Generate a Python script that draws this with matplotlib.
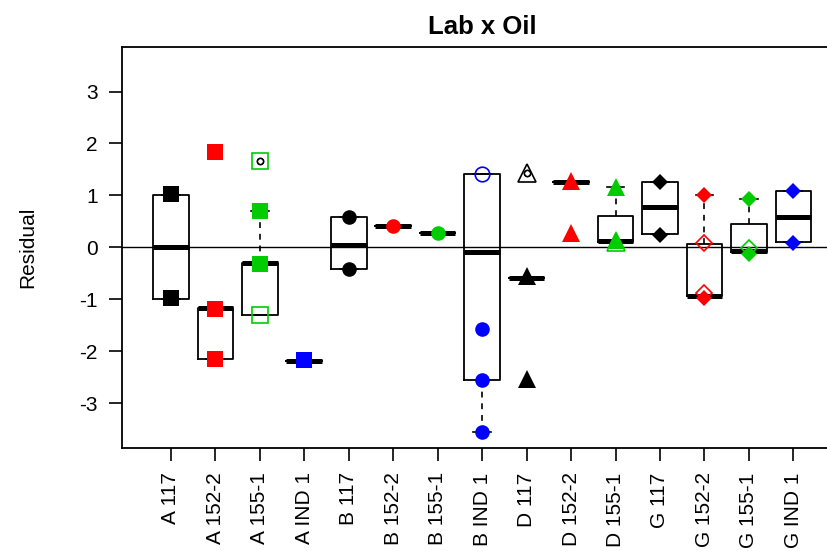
import matplotlib
matplotlib.use('Agg')
import matplotlib.pyplot as plt

plt.rcParams['font.family'] = ['Liberation Sans', 'DejaVu Sans']

# group labels (lab + oil)
labels = ['A 117', 'A 152-2', 'A 155-1', 'A IND 1',
          'B 117', 'B 152-2', 'B 155-1', 'B IND 1',
          'D 117', 'D 152-2', 'D 155-1',
          'G 117', 'G 152-2', 'G 155-1', 'G IND 1']

# box statistics
box_q1 = [-0.99, -2.15, -1.31, -2.18, -0.41, 0.42, 0.28, -2.56, -0.58, 1.25, 0.11, 0.26, -0.93, -0.08, 0.10]
box_med = [0.00, -1.17, -0.30, -2.18, 0.05, 0.42, 0.28, -0.09, -0.58, 1.25, 0.12, 0.77, -0.93, -0.06, 0.58]
box_q3 = [1.00, -1.17, -0.30, -2.18, 0.58, 0.42, 0.28, 1.41, -0.58, 1.25, 0.61, 1.25, 0.06, 0.45, 1.09]
whisk_lo = [-0.99, -2.15, -1.31, -2.18, -0.41, 0.42, 0.28, -3.56, -0.58, 1.25, 0.11, 0.26, -0.93, -0.08, 0.10]
whisk_hi = [1.00, -1.17, 0.71, -2.18, 0.58, 0.42, 0.28, 1.41, -0.58, 1.25, 1.17, 1.25, 1.01, 0.93, 1.09]
outliers = [[], [], [1.67], [], [], [], [], [], [1.43], [], [], [], [], [], []]

# residuals per group (filled and open symbols)
pts_filled = [[1.02, -0.98], [1.83, -1.18, -2.15], [0.71, -0.32], [-2.16],
              [0.59, -0.41], [0.41], [0.285], [-1.57, -2.55, -3.56],
              [-0.55, -2.53], [1.27, 0.27], [1.17, 0.14],
              [1.25, 0.24], [1.01, -0.98], [0.93, -0.13], [1.09, 0.09]]
pts_open = [[], [], [1.67, -1.31], [],
            [], [], [], [1.41],
            [1.43], [], [0.10],
            [], [0.08, -0.88], [-0.02], []]

oil_colors = {'117': 'black', '152-2': '#ff0000', '155-1': '#00cc00', 'IND 1': '#0000ff'}
lab_markers = {'A': ('s', 11.0), 'B': ('o', 10.5), 'D': ('^', 13.0), 'G': ('D', 7.8)}

fig = plt.figure(figsize=(8.27, 5.51), dpi=100)
ax = fig.add_axes([0.1475, 0.187, 0.871, 0.728])

pos = list(range(1, len(labels) + 1))
stats = []
for i in range(len(labels)):
    stats.append({'q1': box_q1[i], 'med': box_med[i], 'q3': box_q3[i],
                  'whislo': whisk_lo[i], 'whishi': whisk_hi[i], 'fliers': outliers[i]})

ax.bxp(stats, positions=pos, widths=0.8, capwidths=0.4, showfliers=True,
       boxprops=dict(color='black', linewidth=1.3),
       medianprops=dict(color='black', linewidth=3.6, solid_capstyle='butt'),
       whiskerprops=dict(color='black', linewidth=1.2, linestyle=(0, (3.5, 3.5))),
       capprops=dict(color='black', linewidth=1.2),
       flierprops=dict(marker='o', markersize=4.5, markerfacecolor='none',
                       markeredgecolor='black', markeredgewidth=1.0),
       zorder=2)

ax.axhline(0, color='black', linewidth=1.0, zorder=2.5)

for i, lab in enumerate(labels):
    lab_id, oil = lab.split(' ', 1)
    col = oil_colors[oil]
    mk, ms = lab_markers[lab_id]
    if pts_filled[i]:
        ax.plot([pos[i]] * len(pts_filled[i]), pts_filled[i], linestyle='none',
                marker=mk, markersize=ms, color=col, markeredgewidth=0, zorder=3)
    if pts_open[i]:
        ax.plot([pos[i]] * len(pts_open[i]), pts_open[i], linestyle='none',
                marker=mk, markersize=ms, markerfacecolor='none', markeredgecolor=col,
                markeredgewidth=1.2, zorder=3.5)
    if outliers[i]:
        ax.plot([pos[i]] * len(outliers[i]), outliers[i], linestyle='none', marker='o',
                markersize=4.5, markerfacecolor='none', markeredgecolor='black',
                markeredgewidth=1.0, zorder=4)

ax.set_xlim(-0.1, 16.1)
ax.set_ylim(-3.86, 3.86)
ax.set_xticks(pos)
ax.set_xticklabels(labels, rotation=90, fontsize=15)
ax.set_yticks([-3, -2, -1, 0, 1, 2, 3])
ax.set_yticklabels(['-3', '-2', '-1', '0', '1', '2', '3'], fontsize=15)
ax.tick_params(direction='out', length=9.5, width=1.2, pad=8)
for sp in ax.spines.values():
    sp.set_linewidth(1.3)

ax.set_title('Lab x Oil', fontsize=18.5, fontweight='bold', pad=9)
ax.set_ylabel('Residual', fontsize=15)
ax.yaxis.set_label_coords(-0.118, 0.5)

fig.savefig('out.png', dpi=100)
